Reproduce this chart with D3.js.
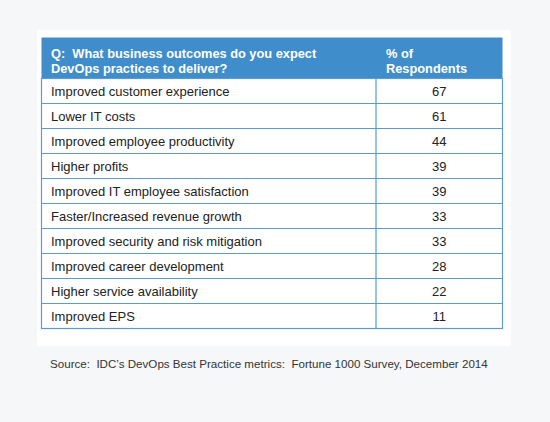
<!DOCTYPE html>
<html>
<head>
<meta charset="utf-8">
<script src="https://cdn.jsdelivr.net/npm/d3@7"></script>
<style>
  body { margin: 0; background: #f6f7f9; }
  svg { display: block; }
  text { white-space: pre; }
</style>
</head>
<body>
<svg id="chart"></svg>
<script>
// table content
const questionLines = ["Q:  What business outcomes do you expect", "DevOps practices to deliver?"];
const valueHeaderLines = ["% of", "Respondents"];
const outcomes = [
  "Improved customer experience",
  "Lower IT costs",
  "Improved employee productivity",
  "Higher profits",
  "Improved IT employee satisfaction",
  "Faster/Increased revenue growth",
  "Improved security and risk mitigation",
  "Improved career development",
  "Higher service availability",
  "Improved EPS"
];
const respondents = [67, 61, 44, 39, 39, 33, 33, 28, 22, 11];
const sourceNote = "Source:  IDC\u2019s DevOps Best Practice metrics:  Fortune 1000 Survey, December 2014";

function getTableConfig() {
    let width = 550;
    let height = 422;
    let left = 41.5, right = 502.5, divider = 376;
    let headerTop = 37.5, headerBottom = 78.5;
    let rowHeight = 25;
    let container = d3.select("#chart").attr("width", width).attr("height", height);
    return { width, height, left, right, divider, headerTop, headerBottom, rowHeight, container };
}

function drawTable() {
    let { left, right, divider, headerTop, headerBottom, rowHeight, container } = getTableConfig();
    let font = "'Liberation Sans', Arial, Helvetica, sans-serif";

    // rows placed with a band scale
    let yScale = d3.scaleBand()
        .domain(outcomes)
        .range([headerBottom, headerBottom + rowHeight * outcomes.length]);
    let bottom = yScale.range()[1];

    // white card behind the table
    container.append("rect")
        .attr("x", 37).attr("y", 30)
        .attr("width", 474).attr("height", 316)
        .attr("fill", "#ffffff");

    // header
    container.append("rect")
        .attr("x", left).attr("y", headerTop)
        .attr("width", right - left).attr("height", headerBottom - headerTop)
        .attr("fill", "#3f8dcb");

    let header = container.append("g")
        .attr("font-family", font)
        .attr("font-size", 12.8)
        .attr("font-weight", "bold")
        .attr("fill", "#ffffff");
    header.selectAll(".q").data(questionLines).enter().append("text")
        .attr("x", 51).attr("y", (d, i) => 58 + i * 14.5)
        .text(d => d);
    header.selectAll(".h").data(valueHeaderLines).enter().append("text")
        .attr("x", 386).attr("y", (d, i) => 58 + i * 14.5)
        .text(d => d);

    // body rows
    let rows = container.selectAll(".row")
        .data(outcomes.map((o, i) => ({ outcome: o, value: respondents[i] })))
        .enter().append("g")
        .attr("transform", d => `translate(0,${yScale(d.outcome)})`);

    rows.append("text")
        .attr("x", 51).attr("y", yScale.bandwidth() / 2 + 4.5)
        .attr("font-family", font).attr("font-size", 13)
        .attr("fill", "#222")
        .text(d => d.outcome);
    rows.append("text")
        .attr("x", (divider + right) / 2).attr("y", yScale.bandwidth() / 2 + 4.5)
        .attr("text-anchor", "middle")
        .attr("font-family", font).attr("font-size", 13)
        .attr("fill", "#222")
        .text(d => d.value);

    // grid lines
    let lineColor = "#5b9bd0";
    container.selectAll(".hline")
        .data(outcomes.slice(1))
        .enter().append("line")
        .attr("x1", left).attr("x2", right)
        .attr("y1", d => yScale(d)).attr("y2", d => yScale(d))
        .attr("stroke", lineColor).attr("stroke-width", 1.2);
    container.append("line")
        .attr("x1", divider).attr("x2", divider)
        .attr("y1", headerBottom).attr("y2", bottom)
        .attr("stroke", lineColor).attr("stroke-width", 1.2);
    container.append("rect")
        .attr("x", left).attr("y", headerBottom)
        .attr("width", right - left).attr("height", bottom - headerBottom)
        .attr("fill", "none")
        .attr("stroke", lineColor).attr("stroke-width", 1.2);

    // source
    container.append("text")
        .attr("x", 50).attr("y", 368)
        .attr("font-family", font).attr("font-size", 11.6)
        .attr("fill", "#333")
        .text(sourceNote);
}

drawTable();
</script>
</body>
</html>
